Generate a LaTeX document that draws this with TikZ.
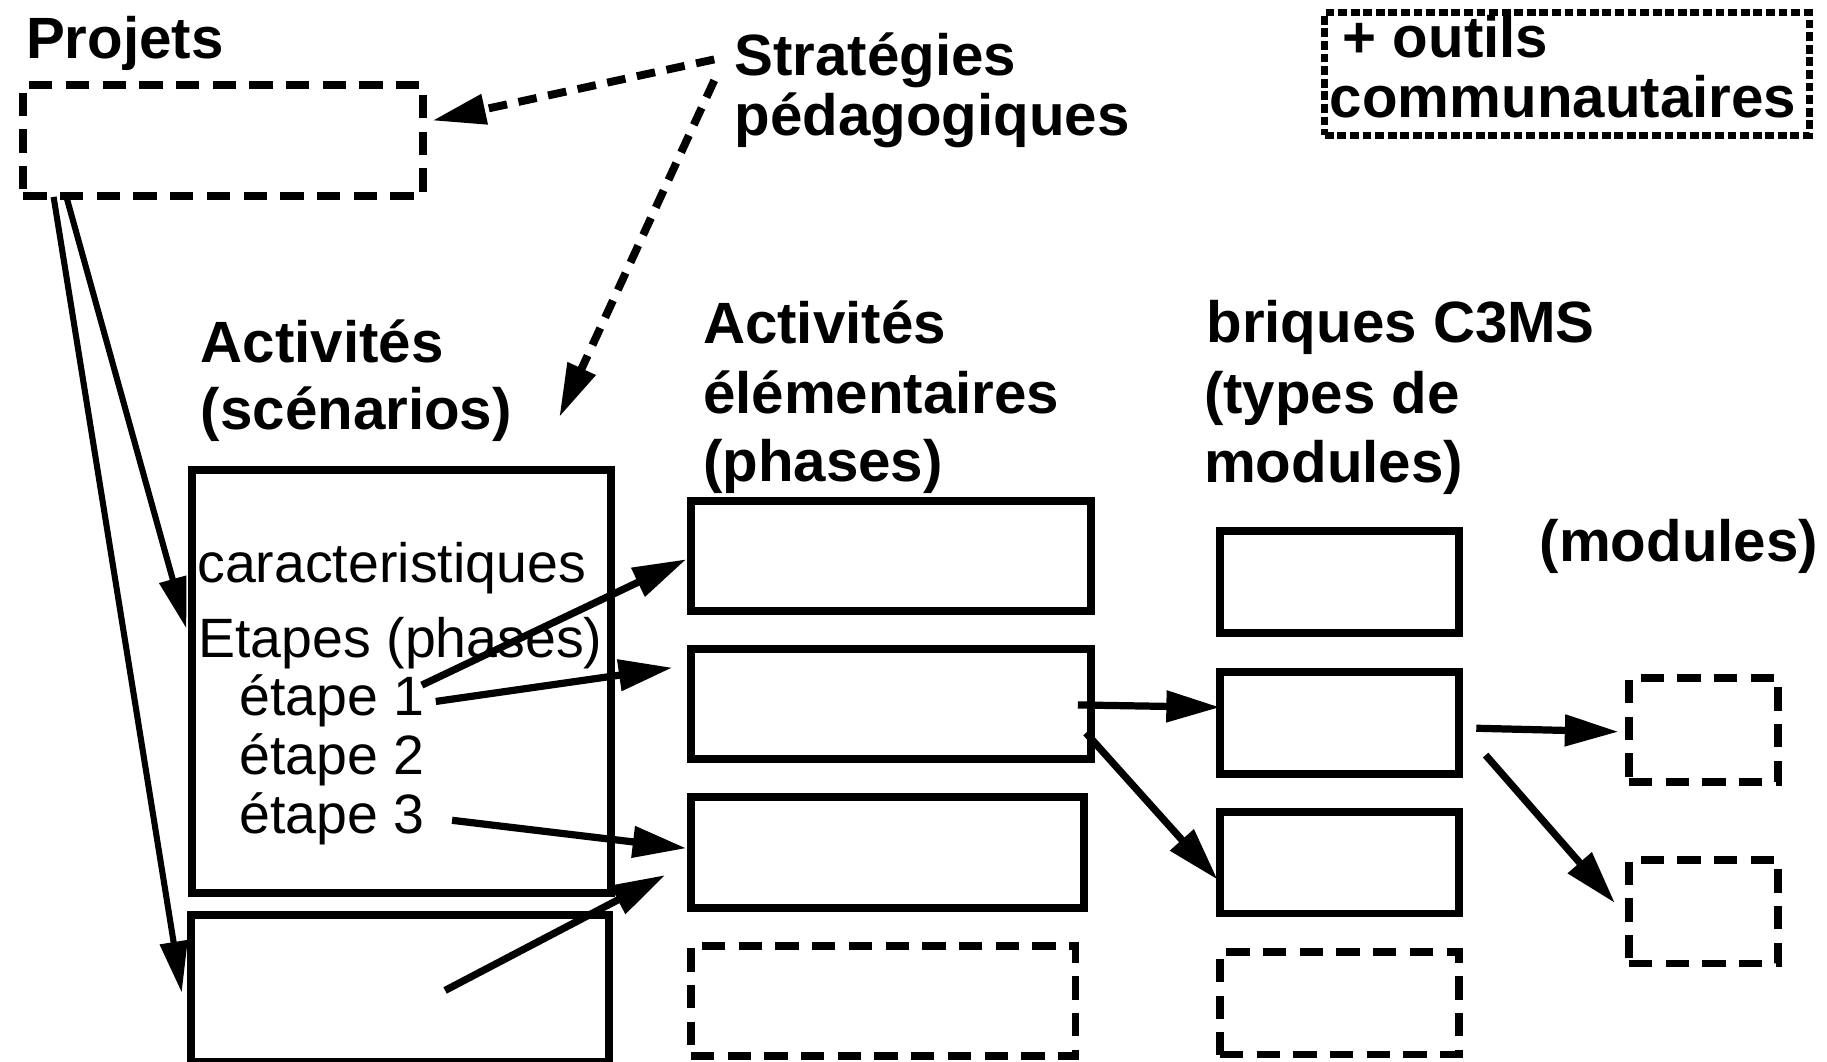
\documentclass[tikz,border=0pt]{standalone}
\usepackage{fontspec}
\setmainfont{Liberation Sans}
\usetikzlibrary{arrows.meta,calc}
\begin{document}
\begin{tikzpicture}[x=0.5pt,y=-0.5pt,
  hd/.style={anchor=base west,inner sep=0pt,font=\fontsize{25pt}{30pt}\selectfont\bfseries},
  tx/.style={anchor=base west,inner sep=0pt,font=\fontsize{23.8pt}{28pt}\selectfont},
  sbox/.style 2 args={draw,line width=3.4pt,inner sep=0pt,outer sep=0pt,minimum width=#1,minimum height=#2},
  dbox/.style 2 args={draw,line width=3.3pt,inner sep=0pt,outer sep=0pt,minimum width=#1,minimum height=#2,dash pattern=on 10pt off 5.75pt},
  obox/.style 2 args={draw,line width=3.1pt,inner sep=0pt,outer sep=0pt,minimum width=#1,minimum height=#2,dash pattern=on 3.8pt off 1.6pt},
  arr/.style={line width=3.1pt,-{Triangle[length=23pt,width=13pt]}},
  parr/.style={line width=2.6pt,-{Triangle[length=22pt,width=11.5pt]}},
  darr/.style={line width=3.4pt,dash pattern=on 8pt off 5pt,-{Triangle[length=23pt,width=12.5pt]}},
]
\useasboundingbox (0,0) rectangle (1568,911);

% top left
\node[hd] (proj) at (22,50) {Projets};
\node[dbox={171.5pt}{47.5pt}] (P) at (191.5,120.5) {};
\node[hd] (strat1) at (630,65) {Stratégies};
\node[hd] (strat2) at (630,116) {pédagogiques};
\node[obox={208pt}{52.5pt}] (O) at (1345,63.5) {};
\node[hd] (out1) at (1152,49) {+ outils};
\node[hd] (out2) at (1141,101) {communautaires};

% column 1
\node[hd] (act1) at (172,311) {Activités};
\node[hd] (act2) at (172,369) {(scénarios)};
\node[sbox={179.5pt}{181.5pt}] (A) at (344.5,584.5) {};
\node[tx] (car) at (169,500) {caracteristiques};
\node[tx] (etp) at (170,564) {Etapes (phases)};
\node[tx] (e1) at (205,614) {étape 1};
\node[tx] (e2) at (205,665) {étape 2};
\node[tx] (e3) at (205,715) {étape 3};
\node[sbox={179.5pt}{63pt}] (B) at (343.5,848) {};

% column 2
\node[hd] (ae1) at (603,295) {Activités};
\node[hd] (ae2) at (603,355) {élémentaires};
\node[hd] (ae3) at (603,413) {(phases)};
\node[sbox={171.5pt}{47pt}] (C1) at (764.5,477) {};
\node[sbox={171.5pt}{47pt}] (C2) at (764.5,604) {};
\node[sbox={168.5pt}{47.5pt}] (C3) at (761.5,731.5) {};
\node[dbox={165pt}{47pt}] (C4) at (758,859) {};

% column 3
\node[hd] (br1) at (1035,294) {briques C3MS};
\node[hd] (br2) at (1033,355) {(types de};
\node[hd] (br3) at (1033,414) {modules)};
\node[sbox={102.5pt}{43.5pt}] (D1) at (1149.5,499.5) {};
\node[sbox={102.5pt}{43.5pt}] (D2) at (1149.5,620.5) {};
\node[sbox={102.5pt}{43.5pt}] (D3) at (1149.5,740.5) {};
\node[dbox={102.5pt}{44pt}] (D4) at (1149.5,861) {};

% column 4
\node[hd] (mod) at (1321,482) {(modules)};
\node[dbox={64pt}{44.5pt}] (E1) at (1462,626.5) {};
\node[dbox={64pt}{44.5pt}] (E2) at (1462,782.5) {};

% free ends
\coordinate (s1) at (613,51);
\coordinate (s2) at (613,69);
\coordinate (p1) at (57,169);
\coordinate (p2) at (46,169);
\coordinate (a1) at (362,588);
\coordinate (a2) at (374,602);
\coordinate (a3) at (388,704);
\coordinate (b1) at (382,850);
\coordinate (c1) at (925,605);
\coordinate (c2) at (932,629);
\coordinate (d1) at (1267,625);
\coordinate (d2) at (1275,648);

% connectors
\draw[darr] (s1) -- ($(P.east)+(8,-17)$);
\draw[darr] (s2) -- ($(A.north east)+(-44,-45)$);
\draw[parr] (p1) -- ($(A.west)+(-5,-45)$);
\draw[parr] (p2) -- ($(B.west)+(-8,4)$);
\draw[arr] (a1) -- ($(C1.west)+(-4,3)$);
\draw[arr] (a2) -- ($(C2.west)+(-16,-31)$);
\draw[arr] (a3) -- ($(C3.west)+(-4,-3.5)$);
\draw[arr] (b1) -- ($(C3.west)+(-22,19.5)$);
\draw[arr] (c1) -- ($(D2.west)+(0,-13.5)$);
\draw[arr] (c2) -- ($(D3.west)+(-2,14.5)$);
\draw[arr] (d1) -- ($(E1.west)+(-9,1.5)$);
\draw[arr] (d2) -- ($(E2.west)+(-12,-7.5)$);
\end{tikzpicture}
\end{document}
